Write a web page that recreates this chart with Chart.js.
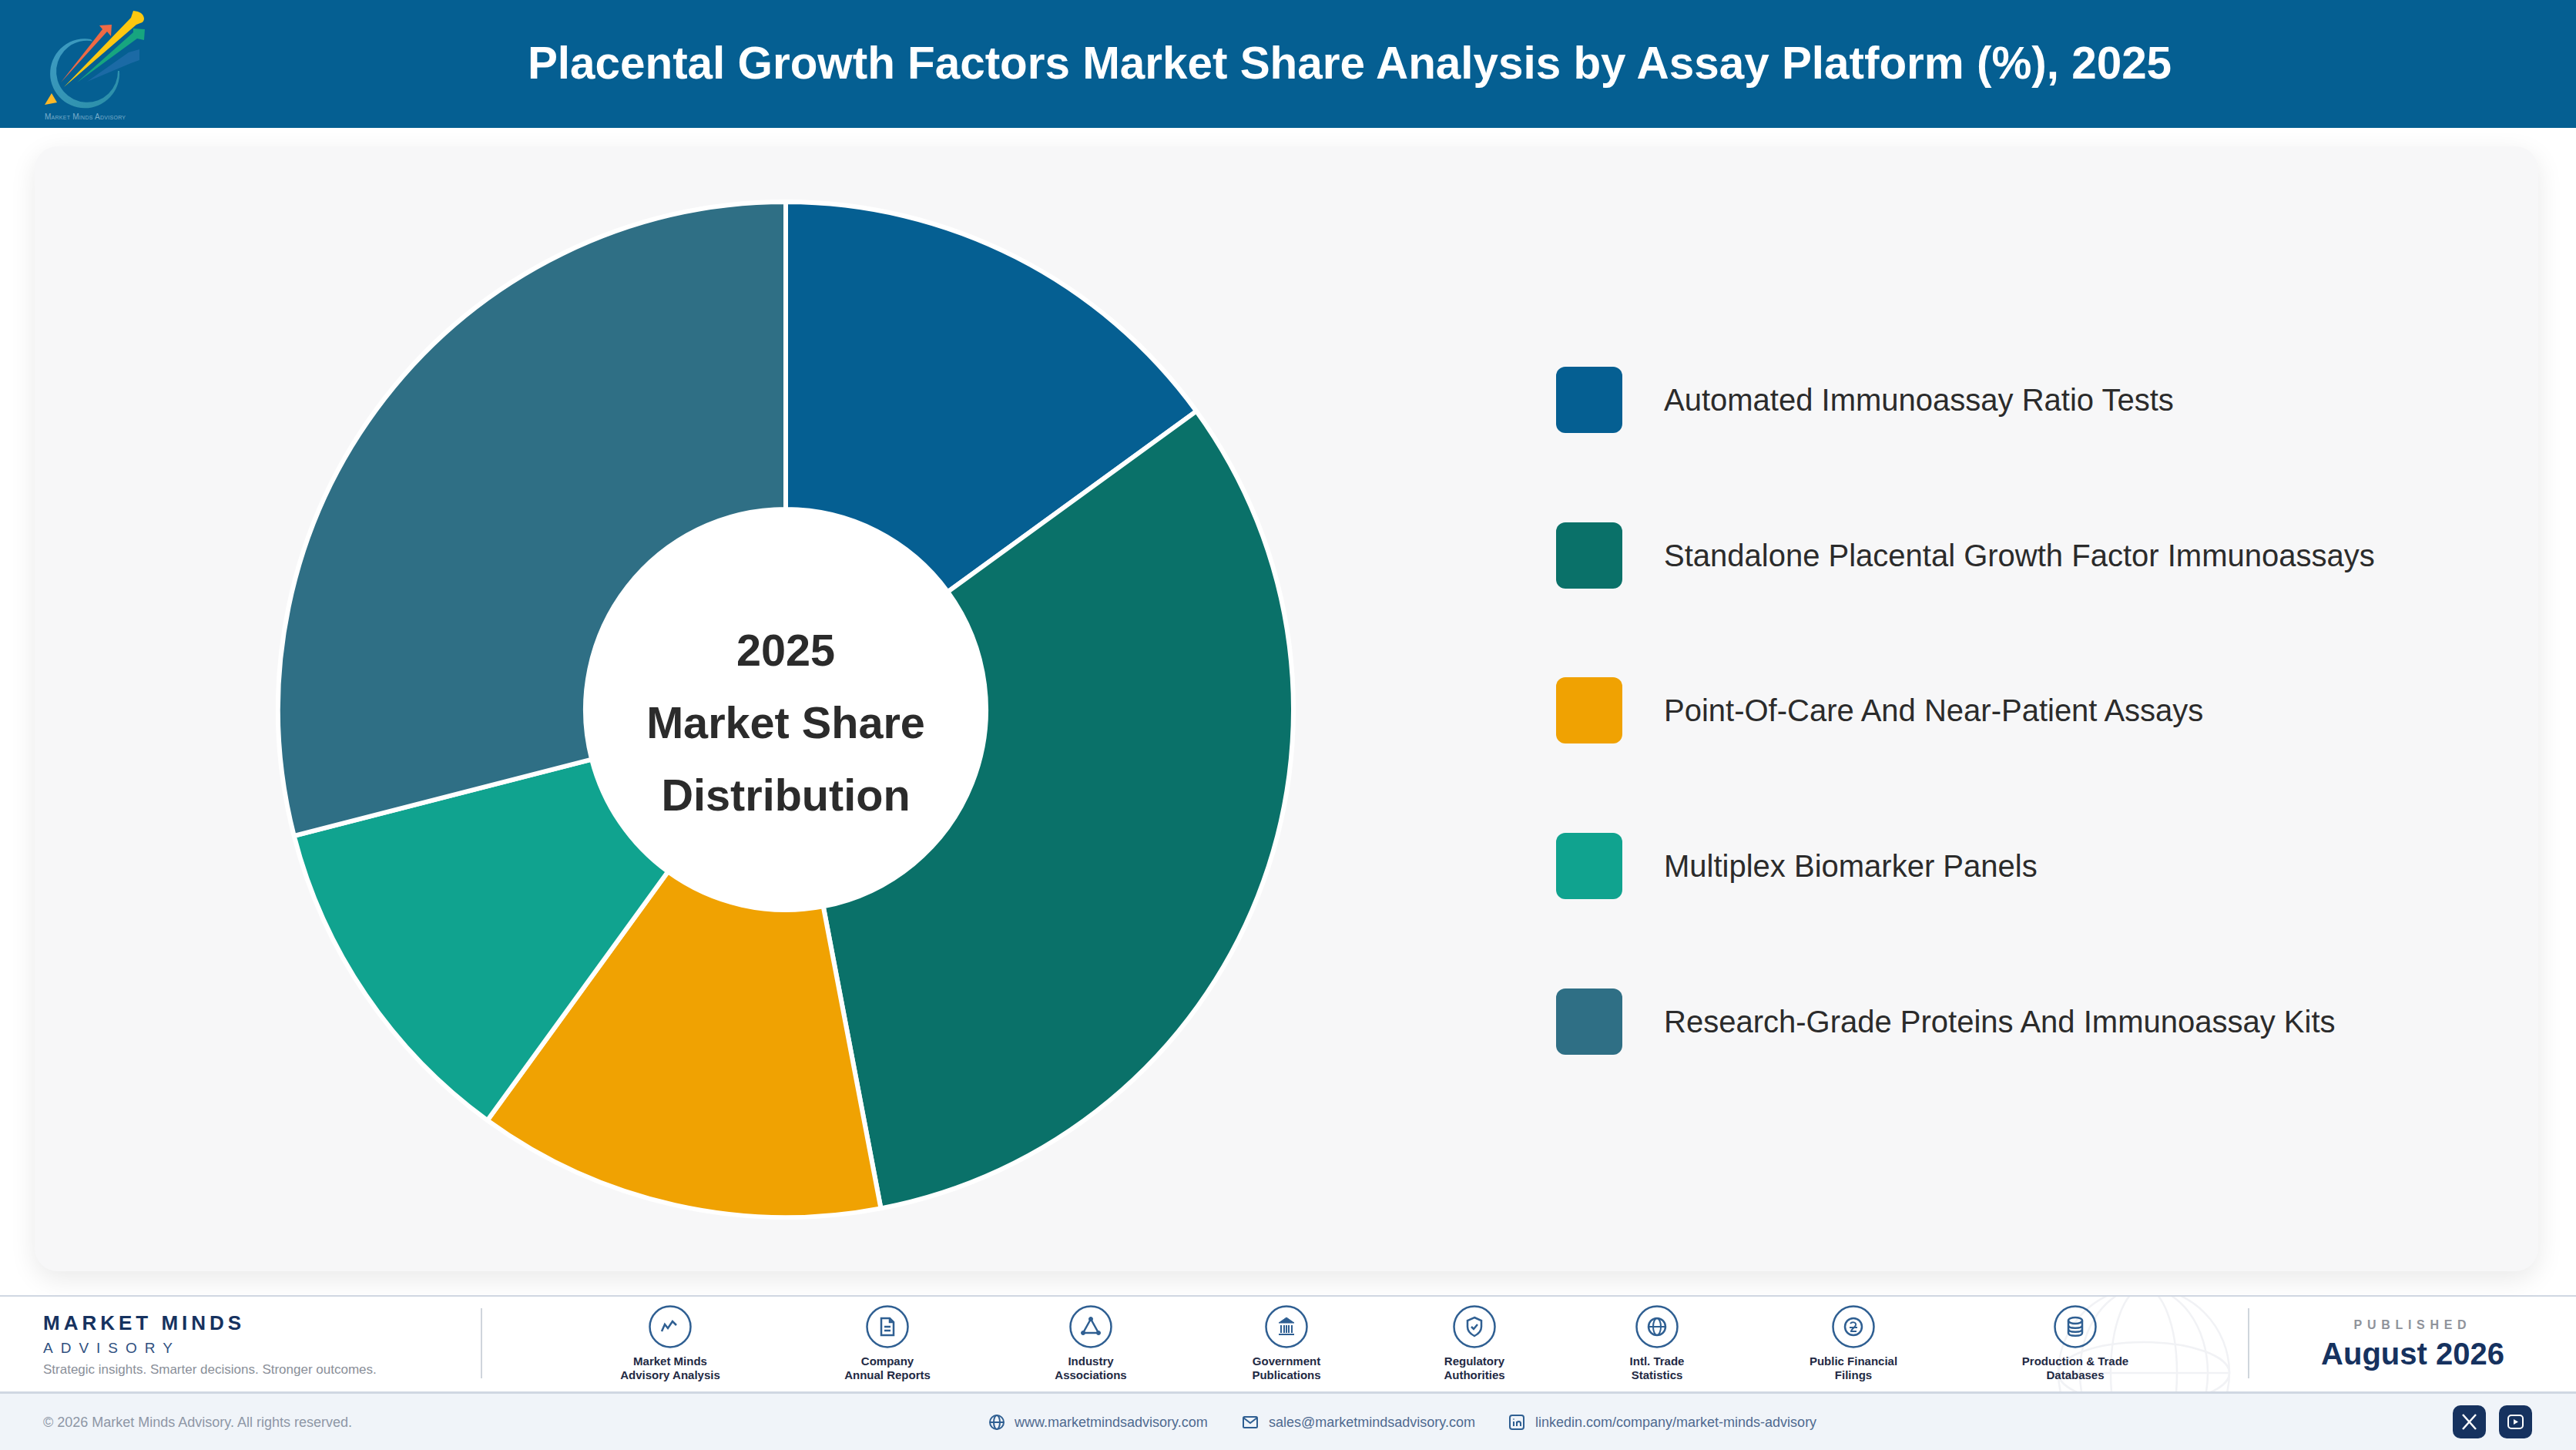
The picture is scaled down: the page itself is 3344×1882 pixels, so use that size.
<!DOCTYPE html>
<html lang="en">
<head>
<meta charset="UTF-8">
<title>Placental Growth Factors Market Share</title>
<script src="https://cdn.jsdelivr.net/npm/chart.js"></script>
<style>
  * { box-sizing: border-box; }
  html, body { margin: 0; padding: 0; background: #fff; }
  body { position: relative; width: 3344px; height: 1882px; overflow: hidden; font-family: "Liberation Sans", Arial, sans-serif; }
  .abs { position: absolute; white-space: nowrap; }
  #header { left: 0; top: 0; width: 3344px; height: 166px; background: #055f92; }
  #title { left: 0; top: 0; width: 3504px; height: 166px; line-height: 163px; text-align: center; color: #fff; font-size: 58.4px; font-weight: 700; }
  #card { left: 45px; top: 190px; width: 3250px; height: 1460px; background: #f7f7f8; border-radius: 30px; box-shadow: 0 10px 34px rgba(0,0,0,.09); }
  #pie { position: absolute; left: 358px; top: 259px; }
  .swatch { width: 86px; height: 86px; border-radius: 12px; left: 2020px; }
  .legend-text { left: 2160px; height: 86px; line-height: 86px; font-size: 40px; color: #2b2b2b; }
  #band { left: 0; top: 1681px; width: 3344px; height: 128px; background: #fff; border-top: 2px solid #d0d7e2; border-bottom: 3px solid #d0d7e2; }
  #bottom { left: 0; top: 1809px; width: 3344px; height: 73px; background: #f0f4f9; }
  .src-icon { width: 56px; height: 56px; top: 1694px; }
  .src-label { top: 1758px; width: 220px; text-align: center; font-size: 15px; font-weight: 700; line-height: 18px; color: #1f2a44; white-space: normal; }
  .foot { top: 1834px; height: 24px; line-height: 24px; font-size: 18px; color: #4f6a90; }
  .foot-icon { top: 1834px; width: 24px; height: 24px; }
  .sq { top: 1824px; width: 43px; height: 43px; border-radius: 10px; background: #16325f; }
</style>
</head>
<body>
<div class="abs" id="header"></div>
<svg class="abs" style="left:0;top:0" width="200" height="166" viewBox="0 0 200 166">
  <defs><linearGradient id="ring" x1="0" y1="0" x2="1" y2="1"><stop offset="0" stop-color="#3f9cc4"/><stop offset="1" stop-color="#2a8ea6"/></linearGradient></defs>
  <path d="M118 51 A45 45 0 1 0 155 92 L153 92 A40 40 0 1 1 120 53.4 Z" fill="url(#ring)"/>
  <path d="M113 106 L167 68 L181 64 L181 78 L170 82 Z" fill="#1b6aa5"/>
  <path d="M79 107 L133 38 L129 33 L145 32 L144 47 L139 41 Z" fill="#ee6a45"/>
  <path d="M83 113 L170 23 L173 14 Q186 15 187 24 Q187 29 182 30 L177 32 Z" fill="#fdc810"/>
  <path d="M100 107 L173 42 L173 37 L188 38 L187 52 L178 50 Z" fill="#17a57f"/>
  <path d="M58 136 L67 121 L74 133 Z" fill="#fdb827"/>
  <text x="58" y="155" font-size="10" font-family="Liberation Sans" fill="#79aecb" style="font-variant:small-caps" textLength="105">Market Minds Advisory</text>
</svg>
<div class="abs" id="title">Placental Growth Factors Market Share Analysis by Assay Platform (%), 2025</div>
<div class="abs" id="card"></div>
<canvas id="pie" width="1324" height="1324"></canvas>
<div class="abs" id="band"></div>
<svg class="abs" style="left:2660px;top:1683px" width="250" height="123" viewBox="0 0 250 123" fill="none" stroke="#f1f2f5" stroke-width="2.5">
  <circle cx="123" cy="99" r="111"/>
  <ellipse cx="123" cy="99" rx="43" ry="111"/>
  <ellipse cx="123" cy="99" rx="83" ry="111"/>
  <ellipse cx="123" cy="99" rx="111" ry="40"/>
  <path d="M12 99 H234"/>
</svg>
<div class="abs" id="bottom"></div>

<div class="abs" style="left:56px;top:1702px;font-size:26px;font-weight:700;letter-spacing:5px;color:#16325f;line-height:30px">MARKET MINDS</div>
<div class="abs" style="left:56px;top:1738px;font-size:19px;letter-spacing:10px;color:#2f5080;line-height:24px">ADVISORY</div>
<div class="abs" style="left:56px;top:1767px;font-size:17px;color:#8a8f99;line-height:22px">Strategic insights. Smarter decisions. Stronger outcomes.</div>
<div class="abs" style="left:624px;top:1698px;width:2px;height:91px;background:#cfd5dc"></div>
<div class="abs" style="left:2918px;top:1698px;width:2px;height:91px;background:#cfd5dc"></div>
<div class="abs" style="left:2932px;width:400px;text-align:center;top:1710px;font-size:16px;font-weight:700;letter-spacing:6.7px;color:#8f939b;line-height:20px">PUBLISHED</div>
<div class="abs" style="left:2932px;width:400px;text-align:center;top:1733px;font-size:40px;font-weight:700;color:#16325f;line-height:48px">August 2026</div>

<div class="abs foot" style="left:56px;color:#8e97a6">© 2026 Market Minds Advisory. All rights reserved.</div>
<svg class="abs foot-icon" style="left:1282px" viewBox="0 0 24 24" fill="none" stroke="#2f5f92" stroke-width="2"><circle cx="12" cy="12" r="9"/><ellipse cx="12" cy="12" rx="4" ry="9"/><path d="M3 12H21"/></svg>
<div class="abs foot" style="left:1317px">www.marketmindsadvisory.com</div>
<svg class="abs foot-icon" style="left:1611px" viewBox="0 0 24 24" fill="none" stroke="#2f5f92" stroke-width="2"><rect x="3" y="5" width="18" height="14" rx="1.5"/><path d="M3 6L12 13L21 6"/></svg>
<div class="abs foot" style="left:1647px">sales@marketmindsadvisory.com</div>
<svg class="abs foot-icon" style="left:1957px" viewBox="0 0 24 24" fill="none" stroke="#2f5f92" stroke-width="2"><rect x="3" y="3" width="18" height="18" rx="3"/><path d="M8 11V17M8 7.5V8.5M12 17V11M12 13.5C12 10 17 10 17 13.5V17"/></svg>
<div class="abs foot" style="left:1993px">linkedin.com/company/market-minds-advisory</div>
<div class="abs sq" style="left:3184px"><svg width="43" height="43" viewBox="0 0 43 43" stroke="#fff" stroke-width="2.5"><path d="M13 12L30 31M30 12L13 31"/></svg></div>
<div class="abs sq" style="left:3244px"><svg width="43" height="43" viewBox="0 0 43 43" fill="none" stroke="#fff" stroke-width="2"><rect x="12" y="13" width="19" height="17" rx="4"/><path d="M19 18V25L25 21.5Z" fill="#fff" stroke="none"/></svg></div>

<script>
const categories = [
  'Automated Immunoassay Ratio Tests',
  'Standalone Placental Growth Factor Immunoassays',
  'Point-Of-Care And Near-Patient Assays',
  'Multiplex Biomarker Panels',
  'Research-Grade Proteins And Immunoassay Kits'
];
const shareValues = [15, 32, 13, 11, 29];
const sliceColors = ['#055f92', '#0a7169', '#f0a202', '#10a38f', '#2f6f85'];
const centerLines = ['2025', 'Market Share', 'Distribution'];

const sourceLabels = [
  ['Market Minds', 'Advisory Analysis'],
  ['Company', 'Annual Reports'],
  ['Industry', 'Associations'],
  ['Government', 'Publications'],
  ['Regulatory', 'Authorities'],
  ['Intl. Trade', 'Statistics'],
  ['Public Financial', 'Filings'],
  ['Production & Trade', 'Databases']
];
const sourceCenters = [870, 1152, 1416, 1670, 1914, 2151, 2406, 2694];
const sourceGlyphs = [
  '<path d="M17 34L21 25L25 30L31 21L36 26" stroke-width="2.5"/>',
  '<path d="M20 17H31L36 22V39H20Z M31 17V22H36 M24 28H32 M24 33H32" stroke-width="2.5"/>',
  '<path d="M28 18L18 36H38Z" stroke-width="2.5"/><circle cx="28" cy="18" r="2.5" fill="#2f5f92"/><circle cx="18" cy="36" r="2.5" fill="#2f5f92"/><circle cx="38" cy="36" r="2.5" fill="#2f5f92"/>',
  '<path d="M18 23L28 16L38 23Z" fill="#2f5f92"/><path d="M21 26V36M25 26V36M28 26V36M31 26V36M35 26V36M18 38H38" stroke-width="2"/>',
  '<path d="M28 16L37 20V28C37 34 32 38 28 40C24 38 19 34 19 28V20Z M24 28L27 31L32 25" stroke-width="2.5"/>',
  '<circle cx="28" cy="28" r="11" stroke-width="2.5"/><ellipse cx="28" cy="28" rx="5" ry="11" stroke-width="2"/><path d="M17 28H39" stroke-width="2"/>',
  '<circle cx="28" cy="28" r="11" stroke-width="2.5"/><path d="M24 24C26 21 32 22 31 26C30 29 25 31 25 34H32M23 29H33" stroke-width="2"/>',
  '<ellipse cx="28" cy="20" rx="9" ry="4" stroke-width="2.5"/><path d="M19 20V36C19 41 37 41 37 36V20M19 26C19 31 37 31 37 26M19 31C19 36 37 36 37 31" stroke-width="2.5"/>'
];

// legend rows next to the pie
const legendTop = 476, legendStep = 201.7;
categories.forEach((name, i) => {
  const y = legendTop + i * legendStep;
  document.body.insertAdjacentHTML('beforeend',
    `<div class="abs swatch" style="top:${y}px;background:${sliceColors[i]}"></div>` +
    `<div class="abs legend-text" style="top:${y}px">${name}</div>`);
});

sourceLabels.forEach((lines, i) => {
  const cx = sourceCenters[i];
  document.body.insertAdjacentHTML('beforeend',
    `<svg class="abs src-icon" style="left:${cx - 28}px" viewBox="0 0 56 56" fill="none" stroke="#2f5f92">` +
    `<circle cx="28" cy="28" r="26.5" stroke-width="2.5"/>${sourceGlyphs[i]}</svg>` +
    `<div class="abs src-label" style="left:${cx - 110}px">${lines[0].replace('&', '&amp;')}<br>${lines[1]}</div>`);
});

// white hole behind the slices' inner edge, and the three centre lines
const centerPlugin = {
  id: 'centerText',
  afterDatasetsDraw(chart) {
    const arc = chart.getDatasetMeta(0).data[0];
    const ctx = chart.ctx;
    ctx.save();
    ctx.fillStyle = '#fff';
    ctx.beginPath();
    ctx.arc(arc.x, arc.y, arc.innerRadius, 0, Math.PI * 2);
    ctx.fill();
    ctx.fillStyle = '#2b2b2b';
    ctx.font = '700 57.6px "Liberation Sans"';
    ctx.textAlign = 'center';
    ctx.textBaseline = 'alphabetic';
    centerLines.forEach((line, i) => ctx.fillText(line, arc.x, arc.y - 57 + i * 94));
    ctx.restore();
  }
};

new Chart(document.getElementById('pie'), {
  type: 'doughnut',
  data: {
    labels: categories,
    datasets: [{
      data: shareValues,
      backgroundColor: sliceColors,
      borderColor: '#fff',
      borderWidth: 6
    }]
  },
  options: {
    responsive: false,
    animation: false,
    cutout: 260,
    plugins: { legend: { display: false }, tooltip: { enabled: false } }
  },
  plugins: [centerPlugin]
});
</script>
</body>
</html>
